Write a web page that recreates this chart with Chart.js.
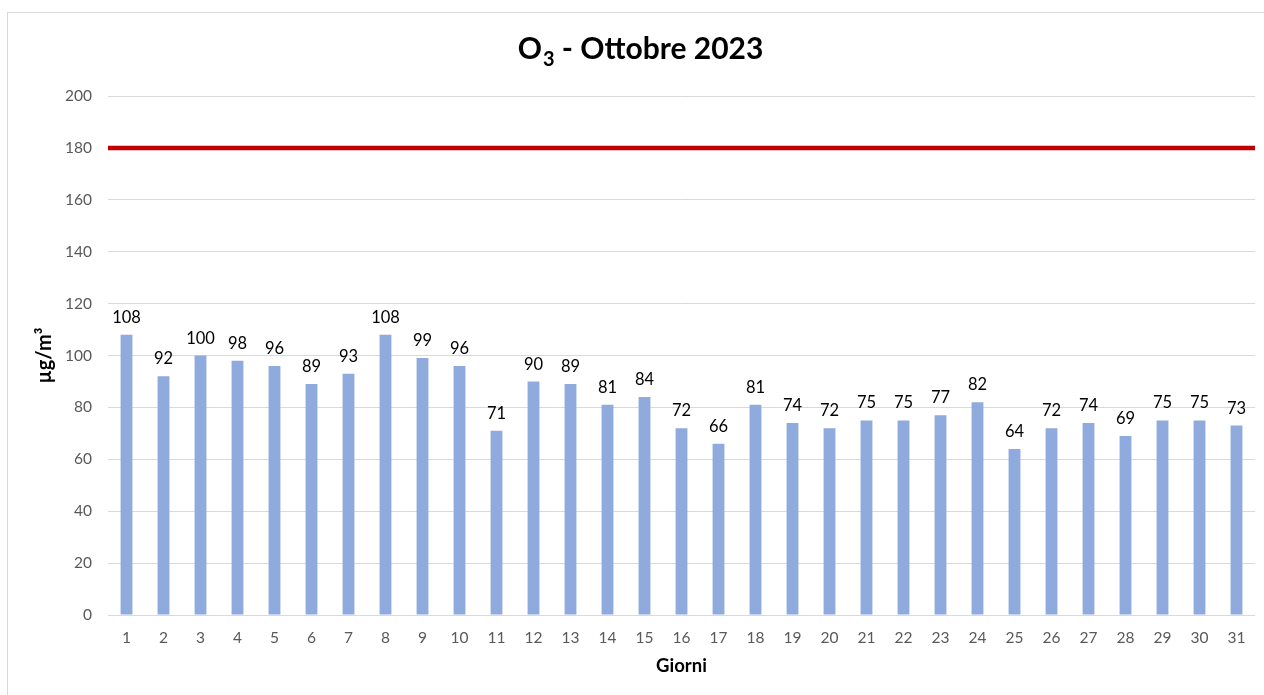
<!DOCTYPE html>
<html>
<head>
<meta charset="utf-8">
<script src="https://cdn.jsdelivr.net/npm/chart.js@4"></script>
<style>
  html, body { margin: 0; padding: 0; background: #fff; }
  #wrap { position: relative; width: 1264px; height: 695px; overflow: hidden; }
  #frame { position: absolute; left: 7px; top: 12px; width: 1400px; height: 800px;
           border-left: 1px solid #D9D9D9; border-top: 1px solid #D9D9D9; pointer-events: none; }
  canvas { position: absolute; left: 0; top: 0; }
</style>
</head>
<body>
<div id="wrap">
  <div id="frame"></div>
  <canvas id="c" width="1264" height="695"></canvas>
</div>
<script>
const days = ['1','2','3','4','5','6','7','8','9','10','11','12','13','14','15','16','17','18','19','20','21','22','23','24','25','26','27','28','29','30','31'];
const o3Values = [108,92,100,98,96,89,93,108,99,96,71,90,89,81,84,72,66,81,74,72,75,75,77,82,64,72,74,69,75,75,73];
const limitValue = 180;
const yTicks = [0,20,40,60,80,100,120,140,160,180,200];

const FONT = 'Lato, "Open Sans", "Liberation Sans", sans-serif';

const titlePlugin = {
  id: 'subTitle',
  afterDraw(chart) {
    const ctx = chart.ctx;
    ctx.save();
    ctx.fillStyle = '#000';
    ctx.textBaseline = 'alphabetic';
    const big = 'bold 30px ' + FONT;
    const small = 'bold 20px ' + FONT;
    const p1 = 'O', p2 = '3', p3 = ' - Ottobre 2023';
    ctx.font = big; const w1 = ctx.measureText(p1).width, w3 = ctx.measureText(p3).width;
    ctx.font = small; const w2 = ctx.measureText(p2).width;
    const total = w1 + w2 + w3;
    let x = 640 - total / 2;
    const y = 59;
    ctx.font = big; ctx.textAlign = 'left';
    ctx.fillText(p1, x, y); x += w1 + 1;
    ctx.font = small; ctx.fillText(p2, x, y + 7); x += w2;
    ctx.font = big; ctx.fillText(p3, x, y);
    ctx.restore();
  }
};

const labelPlugin = {
  id: 'barLabels',
  afterDatasetsDraw(chart) {
    const ctx = chart.ctx;
    const meta = chart.getDatasetMeta(0);
    ctx.save();
    ctx.font = '16.5px ' + FONT;
    ctx.fillStyle = '#000';
    ctx.textAlign = 'center';
    ctx.textBaseline = 'bottom';
    meta.data.forEach((bar, i) => {
      ctx.fillText(String(o3Values[i]), bar.x, bar.y - 9);
    });
    ctx.restore();
  }
};

new Chart(document.getElementById('c'), {
  type: 'bar',
  data: {
    labels: days,
    datasets: [
      {
        type: 'bar',
        data: o3Values,
        backgroundColor: '#8FAADC',
        borderWidth: 0,
        grouped: false,
        categoryPercentage: 1,
        barPercentage: 0.32,
        order: 2
      },
      {
        type: 'line',
        xAxisID: 'xLine',
        data: [{x: 0, y: limitValue}, {x: 1, y: limitValue}],
        borderColor: '#C00000',
        borderWidth: 4.5,
        pointRadius: 0,
        fill: false,
        order: 1
      }
    ]
  },
  options: {
    responsive: false,
    animation: false,
    devicePixelRatio: 1,
    layout: { padding: { left: 8, right: 9, top: 96, bottom: 0 } },
    plugins: { legend: { display: false }, title: { display: false }, tooltip: { enabled: false } },
    scales: {
      x: {
        type: 'category',
        offset: true,
        grid: { display: false, drawTicks: false },
        border: { display: false },
        ticks: { color: '#595959', font: { family: FONT, size: 15.5 }, padding: 14, maxRotation: 0, autoSkip: false },
        title: { display: true, text: 'Giorni', color: '#000', font: { family: FONT, size: 18.5, weight: 'bold' }, padding: { top: 0, bottom: 18 } },
        afterFit(s) { s.height = 80; }
      },
      xLine: {
        type: 'linear',
        display: false,
        offset: false,
        grid: { offset: false },
        min: 0,
        max: 1
      },
      y: {
        min: 0,
        max: 200,
        grid: { color: '#D9D9D9', lineWidth: 1, drawTicks: false },
        border: { display: false },
        afterBuildTicks(s) { s.ticks = yTicks.map(v => ({ value: v })); },
        ticks: { color: '#595959', font: { family: FONT, size: 15.5 }, padding: 16 },
        title: { display: true, text: 'µg/m³', color: '#000', font: { family: FONT, size: 20, weight: 'bold' }, padding: { top: 25, bottom: 0 } },
        afterFit(s) { s.width = 100; }
      }
    }
  },
  plugins: [titlePlugin, labelPlugin]
});
</script>
</body>
</html>
